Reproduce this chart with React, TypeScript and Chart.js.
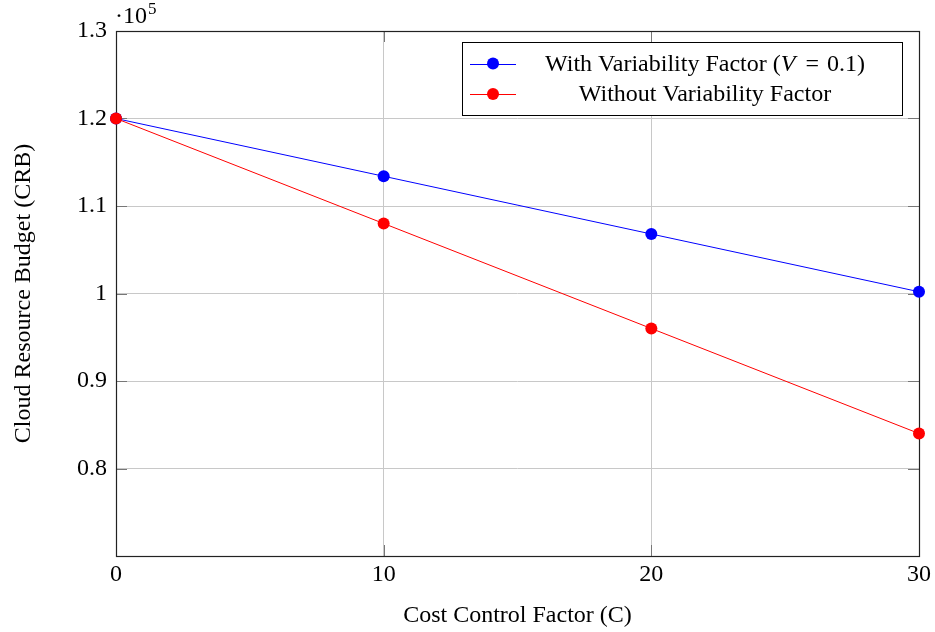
import React, { useEffect, useRef } from "react";
import { Chart, registerables } from "chart.js";

Chart.register(...registerables);

const xValues = [0, 10, 20, 30];
const withVariability = [120000, 113400, 106800, 100200];
const withoutVariability = [120000, 108000, 96000, 84000];
const seriesLabels = ["With Variability Factor (V = 0.1)", "Without Variability Factor"];
const seriesColors = ["#0000ff", "#ff0000"];
const xTickValues = [0, 10, 20, 30];
const yTickValues = [80000, 90000, 100000, 110000, 120000, 130000];
const xTitle = "Cost Control Factor (C)";
const yTitle = "Cloud Resource Budget (CRB)";

const FONT_FAMILY = "'Liberation Serif', 'DejaVu Serif', serif";
const FONT_SIZE = 24;

const framePlugin = {
  id: "framePlugin",
  beforeDatasetsDraw(chart: any) {
    const { ctx, chartArea } = chart;
    const { left, right, top, bottom } = chartArea;
    const xs = chart.scales.x;
    const ys = chart.scales.y;
    ctx.save();
    ctx.strokeStyle = "#777777";
    ctx.lineWidth = 1;
    const tl = 11;
    ctx.beginPath();
    xTickValues.forEach((v) => {
      const px = Math.round(xs.getPixelForValue(v)) + 0.5;
      ctx.moveTo(px, bottom);
      ctx.lineTo(px, bottom - tl);
      ctx.moveTo(px, top);
      ctx.lineTo(px, top + tl);
    });
    yTickValues.forEach((v) => {
      const py = Math.round(ys.getPixelForValue(v)) + 0.5;
      ctx.moveTo(left, py);
      ctx.lineTo(left + tl, py);
      ctx.moveTo(right, py);
      ctx.lineTo(right - tl, py);
    });
    ctx.stroke();
    ctx.strokeStyle = "#222222";
    ctx.lineWidth = 1.2;
    ctx.strokeRect(Math.round(left) + 0.5, Math.round(top) + 0.5, Math.round(right - left), Math.round(bottom - top));
    ctx.restore();
  },
  afterDraw(chart: any) {
    const { ctx, chartArea } = chart;
    const { left, right, top, bottom } = chartArea;
    ctx.save();
    ctx.fillStyle = "#000000";
    const font = `${FONT_SIZE}px ${FONT_FAMILY}`;
    const italic = `italic ${FONT_SIZE}px ${FONT_FAMILY}`;

    // axis titles
    ctx.font = font;
    ctx.textAlign = "center";
    ctx.textBaseline = "alphabetic";
    ctx.fillText(xTitle, (left + right) / 2, 622);
    ctx.save();
    ctx.translate(30, (top + bottom) / 2);
    ctx.rotate(-Math.PI / 2);
    ctx.fillText(yTitle, 0, 0);
    ctx.restore();

    // exponent label
    ctx.textAlign = "left";
    ctx.font = font;
    ctx.fillText("\u00b710", left - 1, 23);
    const w10 = ctx.measureText("\u00b710").width;
    ctx.font = `${Math.round(FONT_SIZE * 0.7)}px ${FONT_FAMILY}`;
    ctx.fillText("5", left - 1 + w10 + 1, 14);

    // legend
    const bx = 462, by = 42, bw = 440, bh = 73;
    ctx.fillStyle = "#ffffff";
    ctx.fillRect(bx, by, bw, bh);
    ctx.strokeStyle = "#000000";
    ctx.lineWidth = 1;
    ctx.strokeRect(bx + 0.5, by + 0.5, bw, bh);
    const rows = [63.5, 94];
    const textCenter = 705;
    seriesLabels.forEach((label, i) => {
      const cy = rows[i];
      ctx.strokeStyle = seriesColors[i];
      ctx.lineWidth = 1;
      ctx.beginPath();
      ctx.moveTo(470, Math.round(cy) + 0.5);
      ctx.lineTo(516, Math.round(cy) + 0.5);
      ctx.stroke();
      ctx.fillStyle = seriesColors[i];
      ctx.beginPath();
      ctx.arc(493, cy, 6, 0, Math.PI * 2);
      ctx.fill();

      // split label to italicise the math variable and widen math spacing
      const m = label.match(/^(.*\()([A-Za-z]) = (.*)$/);
      const parts: { t: string; f: string; gap?: number }[] = m
        ? [
            { t: m[1], f: font },
            { t: m[2], f: italic, gap: 2 },
            { t: "=", f: font, gap: 0 },
            { t: m[3], f: font },
          ]
        : [{ t: label, f: font }];
      const mathSpace = 8;
      const widths = parts.map((p) => {
        ctx.font = p.f;
        return ctx.measureText(p.t).width;
      });
      let total = 0;
      parts.forEach((p, k) => {
        total += widths[k];
        if (p.gap !== undefined) total += mathSpace + p.gap;
      });
      let x = textCenter - total / 2;
      ctx.fillStyle = "#000000";
      ctx.textBaseline = "middle";
      ctx.textAlign = "left";
      parts.forEach((p, k) => {
        ctx.font = p.f;
        ctx.fillText(p.t, x, cy + 1);
        x += widths[k];
        if (p.gap !== undefined) x += mathSpace + p.gap;
      });
    });
    ctx.restore();
  },
};

export default function App() {
  const canvasRef = useRef<HTMLCanvasElement | null>(null);

  useEffect(() => {
    if (!canvasRef.current) return;
    const gridColor = (c: any) => {
      const v = c.tick && c.tick.value;
      if (c.scale.axis === "x") return v === 0 || v === 30 ? "rgba(0,0,0,0)" : "#c8c8c8";
      return v === 70000 || v === 130000 ? "rgba(0,0,0,0)" : "#c8c8c8";
    };
    const chart = new Chart(canvasRef.current, {
      type: "line",
      data: {
        datasets: [
          {
            label: seriesLabels[0],
            data: xValues.map((x, i) => ({ x, y: withVariability[i] })),
            borderColor: seriesColors[0],
            backgroundColor: seriesColors[0],
            pointBackgroundColor: seriesColors[0],
            borderWidth: 1,
            pointRadius: 6,
            pointBorderWidth: 0,
            tension: 0,
            clip: false as any,
            order: 1,
          },
          {
            label: seriesLabels[1],
            data: xValues.map((x, i) => ({ x, y: withoutVariability[i] })),
            borderColor: seriesColors[1],
            backgroundColor: seriesColors[1],
            pointBackgroundColor: seriesColors[1],
            borderWidth: 1,
            pointRadius: 6,
            pointBorderWidth: 0,
            tension: 0,
            clip: false as any,
            order: 0,
          },
        ],
      },
      options: {
        animation: false,
        responsive: false,
        devicePixelRatio: 1,
        layout: { padding: { top: 31, right: 16, left: 0, bottom: 0 } },
        plugins: { legend: { display: false }, tooltip: { enabled: false } },
        scales: {
          x: {
            type: "linear",
            min: 0,
            max: 30,
            afterFit: (s: any) => {
              s.height = 76;
            },
            afterBuildTicks: (s: any) => {
              s.ticks = xTickValues.map((v) => ({ value: v }));
            },
            ticks: {
              color: "#000000",
              font: { family: FONT_FAMILY, size: FONT_SIZE },
              padding: 4,
              maxRotation: 0,
              callback: (v: any) => String(v),
            },
            grid: { color: gridColor as any, drawTicks: false, lineWidth: 1 },
            border: { display: false },
          },
          y: {
            type: "linear",
            min: 70000,
            max: 130000,
            afterFit: (s: any) => {
              s.width = 116;
            },
            afterBuildTicks: (s: any) => {
              s.ticks = [70000, ...yTickValues].map((v) => ({ value: v }));
            },
            ticks: {
              color: "#000000",
              font: { family: FONT_FAMILY, size: FONT_SIZE },
              padding: 9,
              callback: (v: any) => (v === 70000 ? "" : String(Number((v / 1e5).toFixed(1)))),
            },
            grid: { color: gridColor as any, drawTicks: false, lineWidth: 1 },
            border: { display: false },
          },
        },
      },
      plugins: [framePlugin],
    });
    return () => chart.destroy();
  }, []);

  return (
    <div style={{ position: "absolute", left: 0, top: 0, width: 935, height: 632, background: "#ffffff" }}>
      <canvas ref={canvasRef} width={935} height={632} style={{ display: "block" }} />
    </div>
  );
}
